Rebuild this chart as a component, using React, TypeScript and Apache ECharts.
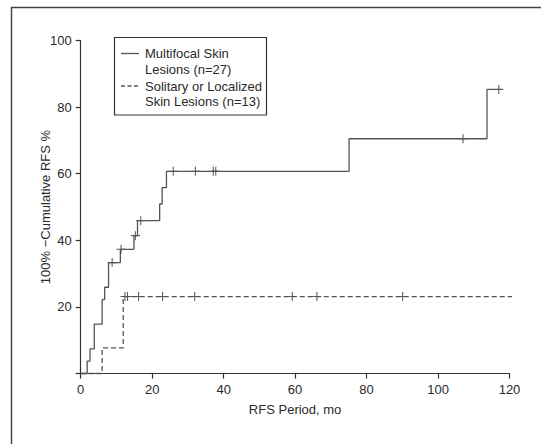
import React, { useEffect, useRef } from "react";
import * as echarts from "echarts";

// Multifocal skin lesions (n = 27): Kaplan-Meier step points
const multiTimes = [0, 1.8, 2.6, 3.8, 6.0, 6.7, 7.8, 11.1, 14.9, 15.9, 22.1, 22.8, 24.0, 75.1, 113.7, 118.0];
const multiValues = [0, 3.7, 7.4, 14.8, 22.2, 25.9, 33.3, 37.3, 41.4, 45.9, 50.9, 55.8, 60.7, 70.5, 85.3, 85.3];
const multiCensorTimes = [8.8, 11.3, 15.3, 16.8, 25.9, 32.1, 37.1, 37.8, 107.0, 117.0];
const multiCensorValues = [33.3, 37.3, 41.4, 45.9, 60.7, 60.7, 60.7, 60.7, 70.5, 85.3];

// Solitary or localized skin lesions (n = 13)
const soloTimes = [0, 6.0, 11.9, 122.0];
const soloValues = [0, 7.7, 23.1, 23.1];
const soloCensorTimes = [12.4, 13.1, 16.2, 22.9, 31.9, 59.2, 66.1, 90.1];
const soloCensorValues = [23.1, 23.1, 23.1, 23.1, 23.1, 23.1, 23.1, 23.1];

const xTicks = [0, 20, 40, 60, 80, 100, 120];
const yTicks = [0, 20, 40, 60, 80, 100];

const legendLines = [
  "Multifocal Skin",
  "Lesions (n=27)",
  "Solitary or Localized",
  "Skin Lesions (n=13)",
];

const FONT = "'Liberation Sans', Arial, sans-serif";
const PLUS = "path://M4.4,0H5.6V10H4.4Z M0,4.4H10V5.6H0Z";
const TXT = "#2a2a2a";

export default function App() {
  const ref = useRef<HTMLDivElement>(null);
  useEffect(() => {
    if (!ref.current) return;
    const chart = echarts.init(ref.current, undefined, { renderer: "svg" });
    const pair = (xs: number[], ys: number[]) => xs.map((x, i) => [x, ys[i]]);
    chart.setOption({
      animation: false,
      backgroundColor: "#fff",
      textStyle: { fontFamily: FONT },
      grid: { left: 80.7, right: 31.5, top: 40.5, bottom: 70.5, containLabel: false },
      xAxis: {
        type: "value",
        min: xTicks[0],
        max: xTicks[xTicks.length - 1],
        interval: 20,
        splitLine: { show: false },
        axisLine: { lineStyle: { color: "#333", width: 1.2 } },
        axisTick: { length: 5, lineStyle: { color: "#333", width: 1.2 } },
        axisLabel: { color: TXT, fontSize: 13, margin: 9, fontFamily: FONT },
        name: "RFS Period, mo",
        nameLocation: "middle",
        nameGap: 29,
        nameMoveOverlap: false,
        nameTextStyle: { color: TXT, fontSize: 13, fontFamily: FONT },
      },
      yAxis: {
        type: "value",
        min: yTicks[0],
        max: yTicks[yTicks.length - 1],
        interval: 20,
        splitLine: { show: false },
        axisLine: { show: true, lineStyle: { color: "#333", width: 1.2 } },
        axisTick: { show: true, length: 5, lineStyle: { color: "#333", width: 1.2 } },
        axisLabel: {
          color: TXT,
          fontSize: 13,
          margin: 9,
          fontFamily: FONT,
          formatter: (v: number) => (v === 0 ? "" : String(v)),
        },
        name: "100% \u2212Cumulative RFS %",
        nameLocation: "middle",
        nameGap: 29,
        nameMoveOverlap: false,
        nameTextStyle: { color: TXT, fontSize: 13, fontFamily: FONT },
      },
      series: [
        {
          type: "line",
          step: "end",
          data: pair(multiTimes, multiValues),
          showSymbol: false,
          clip: false,
          lineStyle: { color: "#555", width: 1.3 },
        },
        {
          type: "line",
          step: "end",
          data: pair(soloTimes, soloValues),
          showSymbol: false,
          clip: false,
          lineStyle: { color: "#555", width: 1.3, type: [5, 3] },
        },
        {
          type: "scatter",
          data: pair(multiCensorTimes, multiCensorValues),
          symbol: PLUS,
          symbolSize: [9, 9],
          itemStyle: { color: "#333" },
          clip: false,
        },
        {
          type: "scatter",
          data: pair(soloCensorTimes, soloCensorValues),
          symbol: PLUS,
          symbolSize: [9, 9],
          itemStyle: { color: "#333" },
          clip: false,
        },
      ],
      graphic: [
        {
          type: "rect",
          shape: { x: 11.5, y: 7.5, width: 700, height: 600 },
          style: { fill: "none", stroke: "#444", lineWidth: 1.5 },
          silent: true,
        },
        {
          type: "rect",
          shape: { x: 114.5, y: 37.5, width: 152, height: 77.5 },
          style: { fill: "#fff", stroke: "#333", lineWidth: 1.2 },
        },
        {
          type: "line",
          shape: { x1: 121, y1: 53.5, x2: 139, y2: 53.5 },
          style: { stroke: "#555", lineWidth: 1.3 },
        },
        {
          type: "line",
          shape: { x1: 121, y1: 86, x2: 139, y2: 86 },
          style: { stroke: "#555", lineWidth: 1.3, lineDash: [4, 2.5] },
        },
        ...legendLines.map((t, i) => ({
          type: "text",
          x: 145,
          y: [53.5, 69.5, 86, 101][i],
          style: {
            text: t,
            fill: TXT,
            fontSize: 13,
            fontFamily: FONT,
            verticalAlign: "middle",
            align: "left",
          },
        })),
      ],
    });
    return () => chart.dispose();
  }, []);
  return (
    <div
      ref={ref}
      style={{ position: "fixed", left: 0, top: 0, width: 541, height: 444 }}
    />
  );
}
